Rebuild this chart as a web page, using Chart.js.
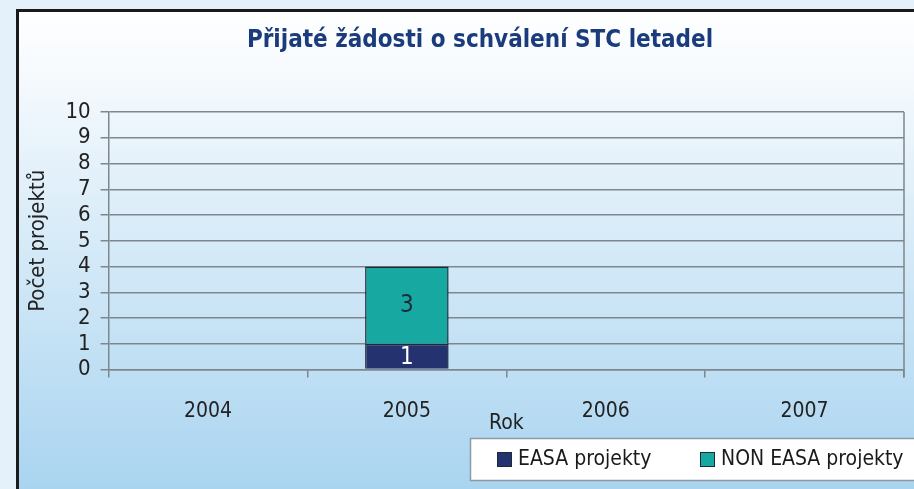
<!DOCTYPE html>
<html>
<head>
<meta charset="utf-8">
<script src="https://cdn.jsdelivr.net/npm/chart.js@4.4.1/dist/chart.umd.min.js"></script>
<style>
  html, body { margin: 0; padding: 0; background: #e6f3fb; }
  canvas { display: block; }
</style>
</head>
<body>
<canvas id="graf" width="914" height="489"></canvas>
<script>
// data
const roky = ["2004", "2005", "2006", "2007"];
const easa = [0, 1, 0, 0];
const nonEasa = [0, 3, 0, 0];
const yTicks = [0, 1, 2, 3, 4, 5, 6, 7, 8, 9, 10];
const nadpis = "Přijaté žádosti o schválení STC letadel";

const pismo = "'DejaVu Sans Condensed', 'Liberation Sans Narrow', 'Roboto', sans-serif";

// pozadi, ramecek, nadpis
const pozadi = {
    id: "pozadi",
    beforeDraw(chart) {
        const ctx = chart.ctx;
        ctx.save();
        ctx.fillStyle = "#e4f1fa";
        ctx.fillRect(0, 0, chart.width, chart.height);
        const g = ctx.createLinearGradient(0, 10, 0, chart.height);
        g.addColorStop(0, "#ffffff");
        g.addColorStop(0.15, "#f4f9fd");
        g.addColorStop(1, "#a9d4f0");
        ctx.fillStyle = g;
        ctx.fillRect(17, 10, chart.width, chart.height);
        ctx.strokeStyle = "#1a1a1a";
        ctx.lineWidth = 3;
        ctx.beginPath();
        ctx.moveTo(17.5, chart.height);
        ctx.lineTo(17.5, 10.5);
        ctx.lineTo(chart.width, 10.5);
        ctx.stroke();
        // nadpis
        ctx.fillStyle = "#1b3c7c";
        ctx.font = "bold 24px " + pismo;
        ctx.textAlign = "center";
        ctx.textBaseline = "middle";
        ctx.fillText(nadpis, 480, 41);
        ctx.restore();
    },
    afterDatasetsDraw(chart) {
        const ctx = chart.ctx;
        const a = chart.chartArea;
        ctx.save();
        ctx.strokeStyle = "#7d878d";
        ctx.lineWidth = 1.5;
        ctx.beginPath();
        ctx.moveTo(a.right, a.top);
        ctx.lineTo(a.right, a.bottom + 8);
        ctx.stroke();
        // hodnoty v sloupcich
        ctx.font = "24px " + pismo;
        ctx.textAlign = "center";
        ctx.textBaseline = "middle";
        chart.data.datasets.forEach((ds, i) => {
            const meta = chart.getDatasetMeta(i);
            meta.data.forEach((bar, j) => {
                if (!ds.data[j]) return;
                ctx.fillStyle = ds.labelColor;
                ctx.fillText(ds.data[j], bar.x, (bar.y + bar.base) / 2 + 1);
            });
        });
        ctx.restore();
    },
    afterDraw(chart) {
        // legenda v bilem boxu
        const ctx = chart.ctx;
        ctx.save();
        ctx.fillStyle = "#ffffff";
        ctx.fillRect(470, 438, chart.width - 470, 42);
        ctx.strokeStyle = "#8c9aa3";
        ctx.lineWidth = 1.5;
        ctx.strokeRect(470.5, 438.5, chart.width - 470 + 5, 42);
        const xs = [497, 700];
        ctx.font = "21px " + pismo;
        ctx.textBaseline = "middle";
        ctx.textAlign = "left";
        chart.data.datasets.forEach((ds, i) => {
            ctx.fillStyle = ds.backgroundColor;
            ctx.fillRect(xs[i], 452, 15, 15);
            ctx.strokeStyle = "#1d2a3a";
            ctx.lineWidth = 1;
            ctx.strokeRect(xs[i] + 0.5, 452.5, 14, 14);
            ctx.fillStyle = "#1a1a1a";
            ctx.fillText(ds.label, xs[i] + 21, 460);
        });
        ctx.restore();
    }
};

new Chart(document.getElementById("graf"), {
    type: "bar",
    data: {
        labels: roky,
        datasets: [{
            label: "EASA projekty",
            data: easa,
            backgroundColor: "#24336f",
            borderColor: "#1d2a3a",
            borderWidth: 1.5,
            labelColor: "#ffffff"
        },
        {
            label: "NON EASA projekty",
            data: nonEasa,
            backgroundColor: "#17a9a1",
            borderColor: "#1d2a3a",
            borderWidth: 1.5,
            labelColor: "#1d2a3a"
        }]
    },
    options: {
        responsive: false,
        animation: false,
        layout: { padding: { left: 25, right: 10, top: 112, bottom: 53 } },
        datasets: { bar: { categoryPercentage: 1, barPercentage: 0.42 } },
        plugins: {
            title: { display: false },
            legend: { display: false },
            tooltip: { enabled: false }
        },
        scales: {
            x: {
                stacked: true,
                grid: { drawOnChartArea: false, tickLength: 8, color: "#7d878d", lineWidth: 1.5 },
                border: { color: "#7d878d", width: 1.5 },
                ticks: { color: "#222222", font: { family: pismo, size: 21 }, padding: 21 },
                title: {
                    display: true,
                    text: "Rok",
                    color: "#222222",
                    font: { family: pismo, size: 21 },
                    padding: { top: -34, bottom: 0 }
                }
            },
            y: {
                stacked: true,
                min: 0,
                max: 10,
                afterBuildTicks(axis) { axis.ticks = yTicks.map(v => ({ value: v })); },
                grid: { color: "#7d878d", lineWidth: 1.5, tickLength: 8 },
                border: { color: "#7d878d", width: 1.5 },
                ticks: { color: "#222222", font: { family: pismo, size: 22 }, padding: 10, autoSkip: false },
                title: {
                    display: true,
                    text: "Počet projektů",
                    color: "#222222",
                    font: { family: pismo, size: 22 },
                    padding: { top: 0, bottom: 4 }
                }
            }
        }
    },
    plugins: [pozadi]
});
</script>
</body>
</html>
